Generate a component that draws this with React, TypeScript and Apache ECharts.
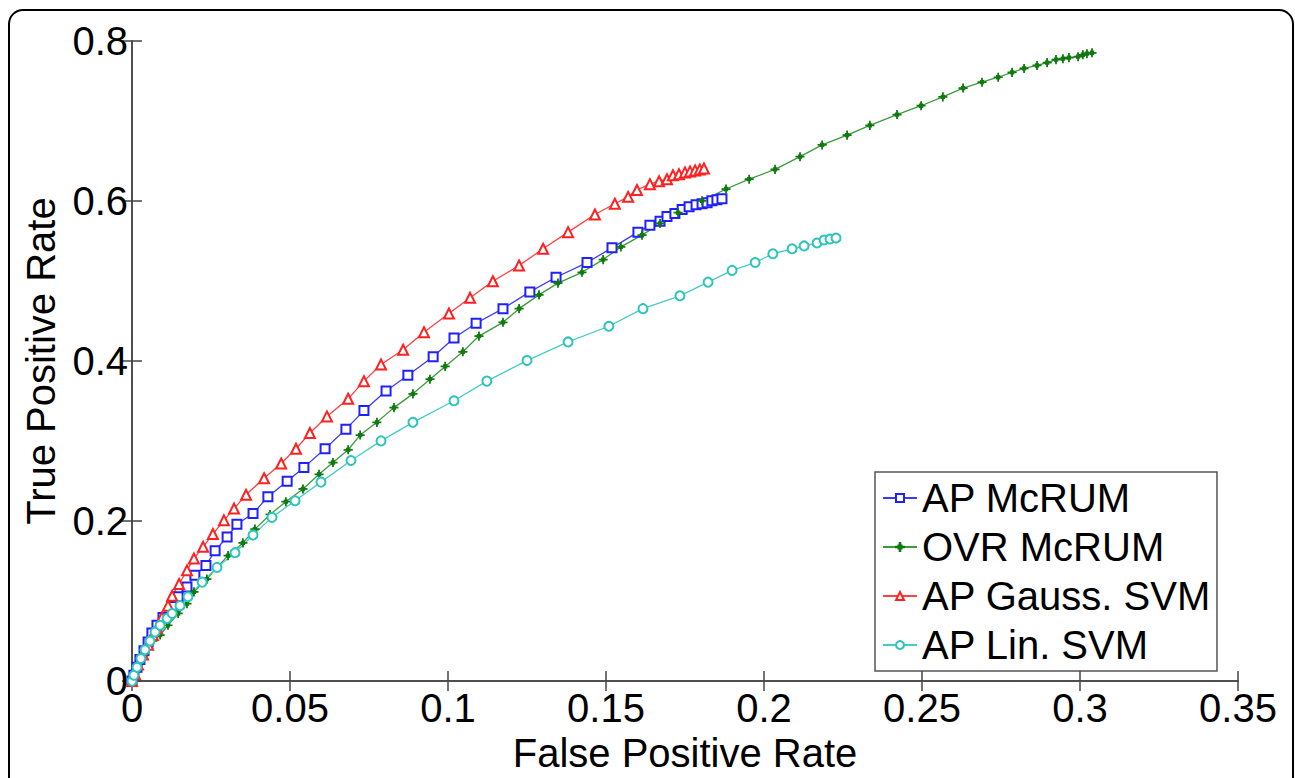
import React, { useEffect, useRef } from "react";
import * as echarts from "echarts";

const xTicks = [0, 0.05, 0.1, 0.15, 0.2, 0.25, 0.3, 0.35];
const yTicks = [0, 0.2, 0.4, 0.6, 0.8];

const seriesNames = ["AP McRUM", "OVR McRUM", "AP Gauss. SVM", "AP Lin. SVM"];

const apMcrumFpr = [0, 0.0006, 0.0016, 0.0025, 0.0038, 0.0051, 0.0063, 0.0079, 0.0098, 0.0127, 0.0146, 0.0174, 0.0199, 0.0234, 0.0263, 0.0301, 0.0332, 0.0383, 0.043, 0.0491, 0.0544, 0.0611, 0.0677, 0.0734, 0.0804, 0.0873, 0.0953, 0.1019, 0.1089, 0.1174, 0.1259, 0.1342, 0.144, 0.1519, 0.1601, 0.1639, 0.1671, 0.1693, 0.1718, 0.1741, 0.1763, 0.1785, 0.1804, 0.182, 0.1835, 0.1851, 0.1867];
const apMcrumTpr = [0, 0.0074, 0.0172, 0.027, 0.038, 0.049, 0.06, 0.0698, 0.0796, 0.0931, 0.1054, 0.1176, 0.1323, 0.1446, 0.1629, 0.1801, 0.196, 0.2095, 0.2303, 0.2499, 0.2671, 0.2904, 0.3149, 0.3381, 0.3626, 0.3822, 0.4055, 0.4288, 0.4472, 0.4655, 0.4864, 0.5047, 0.5231, 0.5415, 0.5611, 0.5697, 0.5746, 0.5807, 0.5844, 0.5893, 0.593, 0.5954, 0.5966, 0.5978, 0.6003, 0.6015, 0.6028];

const ovrMcrumFpr = [0, 0.0006, 0.0016, 0.0025, 0.0038, 0.0051, 0.0066, 0.0089, 0.0114, 0.0146, 0.0174, 0.0196, 0.0237, 0.0269, 0.0304, 0.0351, 0.0389, 0.0437, 0.0487, 0.0541, 0.0592, 0.0636, 0.0684, 0.0722, 0.0775, 0.0829, 0.0889, 0.0943, 0.0991, 0.1047, 0.1098, 0.1174, 0.1225, 0.1288, 0.1348, 0.1424, 0.1491, 0.1547, 0.1614, 0.1671, 0.1728, 0.1804, 0.188, 0.1953, 0.2035, 0.2114, 0.2184, 0.2263, 0.2335, 0.2421, 0.2497, 0.2566, 0.263, 0.269, 0.2741, 0.2785, 0.2823, 0.2864, 0.2896, 0.2924, 0.2946, 0.2965, 0.2994, 0.3009, 0.3022, 0.3038];
const ovrMcrumTpr = [0, 0.0061, 0.0147, 0.0233, 0.0331, 0.0417, 0.0502, 0.0576, 0.0698, 0.0845, 0.0968, 0.1115, 0.1274, 0.1421, 0.1568, 0.1727, 0.1899, 0.2083, 0.2242, 0.2401, 0.2585, 0.2732, 0.2891, 0.3075, 0.3234, 0.3418, 0.359, 0.3773, 0.3933, 0.4116, 0.4312, 0.4484, 0.4655, 0.4827, 0.4974, 0.5109, 0.5268, 0.5427, 0.5574, 0.5721, 0.5856, 0.6003, 0.615, 0.6273, 0.6395, 0.6554, 0.6701, 0.6824, 0.6946, 0.7081, 0.7191, 0.7302, 0.7412, 0.7485, 0.7547, 0.7608, 0.7657, 0.7694, 0.773, 0.7767, 0.7779, 0.7792, 0.7804, 0.7828, 0.7841, 0.7853];

const apGaussFpr = [0, 0.00095, 0.0019, 0.0035, 0.0051, 0.0066, 0.0079, 0.0095, 0.0114, 0.0127, 0.0149, 0.0174, 0.0196, 0.0225, 0.0256, 0.0291, 0.0323, 0.0361, 0.0418, 0.0472, 0.0519, 0.0563, 0.0617, 0.0684, 0.0734, 0.0788, 0.0858, 0.0924, 0.1003, 0.107, 0.1142, 0.1225, 0.1301, 0.138, 0.1465, 0.1528, 0.157, 0.1598, 0.1639, 0.1668, 0.1693, 0.1712, 0.1731, 0.175, 0.1766, 0.1782, 0.1797, 0.181];
const apGaussTpr = [0, 0.0086, 0.0208, 0.0331, 0.0453, 0.0576, 0.0662, 0.0796, 0.0943, 0.1066, 0.1213, 0.1384, 0.1531, 0.1678, 0.1838, 0.2009, 0.2156, 0.2328, 0.2536, 0.272, 0.2904, 0.31, 0.3308, 0.3528, 0.3749, 0.3957, 0.4141, 0.4361, 0.4594, 0.479, 0.4998, 0.5194, 0.5403, 0.5611, 0.5831, 0.5966, 0.6052, 0.6138, 0.6211, 0.6248, 0.6273, 0.6322, 0.6334, 0.6358, 0.637, 0.6383, 0.6395, 0.6407];

const apLinFpr = [0, 0.0006, 0.0016, 0.0028, 0.0041, 0.0057, 0.0073, 0.0089, 0.0111, 0.0127, 0.0152, 0.0177, 0.0222, 0.0269, 0.0326, 0.0383, 0.0443, 0.0516, 0.0598, 0.0693, 0.0788, 0.0889, 0.1019, 0.1123, 0.125, 0.138, 0.1509, 0.1617, 0.1734, 0.1823, 0.1899, 0.1972, 0.2028, 0.2089, 0.2127, 0.2168, 0.219, 0.2209, 0.2228];
const apLinTpr = [0, 0.0074, 0.0172, 0.0282, 0.0392, 0.0502, 0.0613, 0.0698, 0.0784, 0.0845, 0.0943, 0.1054, 0.1237, 0.1421, 0.1605, 0.1825, 0.2046, 0.2254, 0.2487, 0.2757, 0.3002, 0.3234, 0.3504, 0.3749, 0.4006, 0.4239, 0.4435, 0.4655, 0.4815, 0.4986, 0.5133, 0.5231, 0.5341, 0.5403, 0.5439, 0.5476, 0.5513, 0.5525, 0.5537];

const zip = (xs: number[], ys: number[]) => xs.map((x, i) => [x, ys[i]]);

const FONT = "'Liberation Sans', Arial, Helvetica, sans-serif";
const AXIS_COLOR = "#444";

const asterisk =
  "path://M4.6,0H5.4V4.6H10V5.4H5.4V10H4.6V5.4H0V4.6H4.6Z M3,3H7V7H3Z";

export default function App() {
  const ref = useRef<HTMLDivElement>(null);
  useEffect(() => {
    if (!ref.current) return;
    const chart = echarts.init(ref.current, undefined, { renderer: "svg" });
    const mk = (
      name: string,
      data: number[][],
      color: string,
      lineColor: string,
      symbol: string,
      size: number
    ) => ({
      name,
      type: "line",
      data,
      xAxisIndex: 0,
      yAxisIndex: 0,
      symbol,
      symbolSize: size,
      showAllSymbol: true,
      color,
      lineStyle: { color: lineColor, width: 1.3 },
      itemStyle: { color, borderColor: color, borderWidth: 1.1 },
      emphasis: { disabled: true },
      z: 3,
    });
    chart.setOption({
      animation: false,
      backgroundColor: "#fff",
      grid: { left: 132, top: 41, right: 57, bottom: 84, containLabel: false },
      xAxis: [
        {
          type: "value",
          min: 0,
          max: 0.35,
          interval: 0.05,
          name: "False Positive Rate",
          nameLocation: "middle",
          nameGap: 43,
          nameTextStyle: { fontSize: 40, color: "#000", fontFamily: FONT },
          axisLine: { show: true, lineStyle: { color: AXIS_COLOR, width: 1.5 } },
          axisTick: { show: true, inside: true, length: 10, lineStyle: { color: AXIS_COLOR, width: 1.5 } },
          axisLabel: {
            fontSize: 40,
            color: "#000",
            fontFamily: FONT,
            margin: 7,
            formatter: (v: number) => String(xTicks.find((t) => Math.abs(t - v) < 1e-9) ?? v),
          },
          splitLine: { show: false },
        },
        {
          type: "value",
          position: "top",
          min: 0,
          max: 0.35,
          interval: 0.05,
          axisLine: { show: true, lineStyle: { color: AXIS_COLOR, width: 1.5 } },
          axisTick: { show: true, inside: true, length: 10, lineStyle: { color: AXIS_COLOR, width: 1.5 } },
          axisLabel: { show: false },
          splitLine: { show: false },
        },
      ],
      yAxis: [
        {
          type: "value",
          min: 0,
          max: 0.8,
          interval: 0.2,
          name: "True Positive Rate",
          nameLocation: "middle",
          nameGap: 62,
          nameTextStyle: { fontSize: 40, color: "#000", fontFamily: FONT },
          axisLine: { show: true, lineStyle: { color: AXIS_COLOR, width: 1.5 } },
          axisTick: { show: true, inside: true, length: 10, lineStyle: { color: AXIS_COLOR, width: 1.5 } },
          axisLabel: {
            fontSize: 40,
            color: "#000",
            fontFamily: FONT,
            margin: 4,
            formatter: (v: number) => String(yTicks.find((t) => Math.abs(t - v) < 1e-9) ?? v),
          },
          splitLine: { show: false },
        },
        {
          type: "value",
          position: "right",
          min: 0,
          max: 0.8,
          interval: 0.2,
          axisLine: { show: true, lineStyle: { color: AXIS_COLOR, width: 1.5 } },
          axisTick: { show: true, inside: true, length: 10, lineStyle: { color: AXIS_COLOR, width: 1.5 } },
          axisLabel: { show: false },
          splitLine: { show: false },
        },
      ],
      legend: {
        orient: "vertical",
        left: 875,
        top: 472,
        itemWidth: 34,
        itemHeight: 10,
        itemGap: 9,
        padding: [6, 6, 6, 7],
        borderColor: "#555",
        borderWidth: 1.5,
        backgroundColor: "#fff",
        selectedMode: false,
        textStyle: { fontSize: 40, lineHeight: 40, color: "#000", fontFamily: FONT },
        data: seriesNames,
      },
      graphic: [
        {
          type: "rect",
          shape: { x: 9, y: 10, width: 1284, height: 800, r: 14 },
          style: { fill: "none", stroke: "#000", lineWidth: 2 },
          silent: true,
          z: 100,
        },
      ],
      series: [
        mk(seriesNames[0], zip(apMcrumFpr, apMcrumTpr), "#2020ff", "#3a3aff", "emptyRect", 9),
        mk(seriesNames[1], zip(ovrMcrumFpr, ovrMcrumTpr), "#107a10", "#3c9a3c", asterisk, 8),
        mk(seriesNames[2], zip(apGaussFpr, apGaussTpr), "#ff2020", "#ff4040", "emptyTriangle", 10),
        mk(seriesNames[3], zip(apLinFpr, apLinTpr), "#2cc4bc", "#45cdc5", "emptyCircle", 9),
      ],
    });
    return () => chart.dispose();
  }, []);
  return (
    <div
      ref={ref}
      style={{ position: "fixed", left: 0, top: 0, width: 1295, height: 778, background: "#fff" }}
    />
  );
}
